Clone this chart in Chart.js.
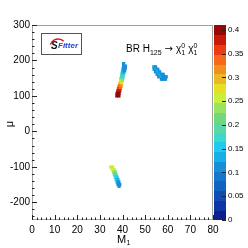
<!DOCTYPE html>
<html>
<head>
<meta charset="utf-8">
<script src="https://cdn.jsdelivr.net/npm/chart.js@4.4.0/dist/chart.umd.min.js"></script>
<style>
  html, body { margin: 0; padding: 0; background: #fff; }
  canvas { display: block; }
</style>
</head>
<body>
<canvas id="myChart" width="248" height="248"></canvas>
<script>
// scan cells: M1, mu and the branching ratio in each cell
var m1 = [
  40.5, 40.5, 41.3, 40.3, 41.2, 40.0, 40.9, 39.8, 40.5, 39.6, 40.3, 39.3, 40.1,
  39.1, 39.9, 38.8, 39.6, 38.5, 39.4, 38.2, 39.1, 37.9, 38.8, 37.6, 38.5, 37.5, 38.4,
  53.8, 54.6, 54.0, 54.9, 55.6, 54.6, 55.5, 56.4, 55.3, 56.2, 57.1, 58.0,
  56.0, 56.9, 57.8, 58.7, 59.3, 57.2, 58.1, 59.0,
  34.8, 35.7, 35.5, 36.3, 36.0, 36.8, 36.4, 37.2, 36.8, 37.6, 37.2, 38.0, 37.6, 38.4, 38.0, 38.8, 38.5
];
var mu = [
  191, 184, 184, 177, 177, 170, 170, 163, 163, 156, 156, 149, 149,
  142, 142, 135, 135, 128, 128, 121, 121, 114, 114, 107, 107, 100, 100,
  182, 182, 175, 175, 175, 168, 168, 168, 161, 161, 161, 161,
  154, 154, 154, 154, 154, 147, 147, 147,
  -101, -101, -108, -108, -115, -115, -122, -122, -129, -129, -136, -136, -143, -143, -150, -150, -155
];
var br = [
  0.11, 0.12, 0.11, 0.12, 0.12, 0.13, 0.12, 0.15, 0.14, 0.18, 0.17, 0.21, 0.20,
  0.25, 0.24, 0.29, 0.28, 0.33, 0.32, 0.35, 0.34, 0.38, 0.37, 0.40, 0.39, 0.40, 0.41,
  0.13, 0.12, 0.12, 0.13, 0.12, 0.12, 0.13, 0.12, 0.12, 0.13, 0.12, 0.12,
  0.12, 0.13, 0.12, 0.11, 0.12, 0.12, 0.12, 0.11,
  0.27, 0.28, 0.26, 0.25, 0.23, 0.22, 0.20, 0.19, 0.17, 0.16, 0.15, 0.14, 0.13, 0.12, 0.12, 0.11, 0.11
];

var xTicks = [0, 10, 20, 30, 40, 50, 60, 70, 80];
var yTicks = [-200, -100, 0, 100, 200, 300];
var zTicks = [0, 0.05, 0.1, 0.15, 0.2, 0.25, 0.3, 0.35, 0.4];
var zMax = 0.41;
var palette = [
  "#0c1f8c", "#0d36a4", "#0f4cb4", "#1262c2", "#1477cc", "#168fd8", "#18aee6", "#1ecbee",
  "#3dd8cc", "#58d8a4", "#72d87e", "#9ae262", "#c8f03c", "#e6e024", "#eab824", "#f0901e",
  "#f86818", "#ee3a10", "#c41a08", "#960808"
];

function colorFor(v) {
  var i = Math.floor(v / zMax * palette.length);
  if (i < 0) i = 0;
  if (i > palette.length - 1) i = palette.length - 1;
  return palette[i];
}

var points = [];
var colors = [];
for (var i = 0; i < m1.length; i++) {
  points.push({ x: m1[i], y: mu[i] });
  colors.push(colorFor(br[i]));
}

function setTicks(list) {
  return function(scale) {
    scale.ticks = list.map(function(v) { return { value: v }; });
  };
}

// frame, inner ticks, colour bar, titles and the logo
var extras = {
  id: "extras",
  afterDraw: function(chart) {
    var ctx = chart.ctx;
    var a = chart.chartArea;
    var xs = chart.scales.x, ys = chart.scales.y, zs = chart.scales.z;
    ctx.save();

    ctx.strokeStyle = "#a0a0a0";
    ctx.lineWidth = 1;
    ctx.strokeRect(a.left + 0.5, a.top + 0.5, a.right - a.left - 1, a.bottom - a.top - 1);

    ctx.strokeStyle = "#222";
    ctx.beginPath();
    for (var v = 0; v <= 80; v += 2) {
      var px = Math.round(xs.getPixelForValue(v)) + 0.5;
      var len = v % 10 === 0 ? 5 : 2.5;
      ctx.moveTo(px, a.bottom);
      ctx.lineTo(px, a.bottom - len);
    }
    for (var w = -240; w <= 300; w += 20) {
      var py = Math.round(ys.getPixelForValue(w)) + 0.5;
      var l2 = w % 100 === 0 ? 5 : 2.5;
      ctx.moveTo(a.left, py);
      ctx.lineTo(a.left + l2, py);
    }
    ctx.stroke();

    // colour bar
    var bx = a.right + 1, bw = 12;
    for (var k = 0; k < palette.length; k++) {
      var y0 = zs.getPixelForValue(k * zMax / palette.length);
      var y1 = zs.getPixelForValue((k + 1) * zMax / palette.length);
      ctx.fillStyle = palette[k];
      ctx.fillRect(bx, Math.floor(y1), bw, Math.ceil(y0) - Math.floor(y1));
    }
    ctx.strokeStyle = "#222";
    ctx.beginPath();
    zTicks.forEach(function(t) {
      var ty = Math.round(zs.getPixelForValue(t)) + 0.5;
      ctx.moveTo(bx + bw, ty);
      ctx.lineTo(bx + bw - 4, ty);
    });
    ctx.stroke();

    ctx.fillStyle = "#000";
    ctx.textBaseline = "alphabetic";
    // x title
    ctx.font = "11px 'Liberation Sans', Arial, sans-serif";
    ctx.textAlign = "left";
    ctx.fillText("M", 117, 243);
    ctx.font = "7px 'Liberation Sans', Arial, sans-serif";
    ctx.fillText("1", 126.5, 245);
    // y title
    ctx.save();
    ctx.translate(13, 124);
    ctx.rotate(-Math.PI / 2);
    ctx.font = "11px 'Liberation Sans', Arial, sans-serif";
    ctx.textAlign = "center";
    ctx.fillText("\u03bc", 0, 0);
    ctx.restore();

    // label
    var x = 126, base = 52;
    ctx.textAlign = "left";
    ctx.font = "10px 'Liberation Sans', Arial, sans-serif";
    ctx.fillText("BR H", x, base);
    x += ctx.measureText("BR H").width;
    ctx.font = "7px 'Liberation Sans', Arial, sans-serif";
    ctx.fillText("125", x, base + 3);
    x += ctx.measureText("125").width + 3;
    ctx.font = "10px 'DejaVu Sans', sans-serif";
    ctx.fillText("\u2192", x, base);
    x += ctx.measureText("\u2192").width + 3;
    for (var c = 0; c < 2; c++) {
      ctx.font = "10px 'Liberation Sans', Arial, sans-serif";
      ctx.fillText("\u03c7", x, base);
      var cw = ctx.measureText("\u03c7").width;
      ctx.font = "7px 'Liberation Sans', Arial, sans-serif";
      ctx.fillText("0", x + cw, base - 4);
      ctx.fillText("1", x + cw, base + 3);
      x += cw + 7;
    }

    // logo
    ctx.strokeStyle = "#555";
    ctx.lineWidth = 1;
    ctx.strokeRect(41.5, 33.5, 40, 21);
    ctx.strokeStyle = "#e01818";
    ctx.lineWidth = 1.5;
    ctx.beginPath();
    ctx.arc(58, 47, 8, Math.PI * 1.1, Math.PI * 1.75);
    ctx.stroke();
    ctx.fillStyle = "#111";
    ctx.font = "bold italic 10px 'Liberation Sans', Arial, sans-serif";
    ctx.fillText("S", 51, 49);
    ctx.fillStyle = "#2040d0";
    ctx.font = "bold italic 8px 'Liberation Sans', Arial, sans-serif";
    ctx.fillText("Fitter", 58, 48);

    ctx.restore();
  }
};

var ctx = document.getElementById("myChart").getContext("2d");
var myChart = new Chart(ctx, {
  type: "scatter",
  data: {
    datasets: [{
      data: points,
      pointStyle: "rect",
      pointRadius: 2.3,
      pointHoverRadius: 2.3,
      pointBorderWidth: 0,
      pointBackgroundColor: colors
    }]
  },
  options: {
    responsive: false,
    animation: false,
    devicePixelRatio: 1,
    layout: { padding: { top: 25, left: 0, right: 0, bottom: 0 } },
    plugins: { legend: { display: false }, tooltip: { enabled: false } },
    scales: {
      x: {
        type: "linear", position: "bottom", min: 0, max: 80,
        afterBuildTicks: setTicks(xTicks),
        afterFit: function(s) { s.height = 28; },
        grid: { display: false, drawTicks: false },
        border: { display: false },
        ticks: { padding: 4, color: "#000", font: { family: "'Liberation Sans', Arial", size: 10 } }
      },
      y: {
        type: "linear", position: "left", min: -250, max: 300,
        afterBuildTicks: setTicks(yTicks),
        afterFit: function(s) { s.width = 32; },
        grid: { display: false, drawTicks: false },
        border: { display: false },
        ticks: { padding: 2, color: "#000", font: { family: "'Liberation Sans', Arial", size: 10 } }
      },
      z: {
        type: "linear", position: "right", min: 0, max: zMax, display: true,
        afterBuildTicks: setTicks(zTicks),
        afterFit: function(s) { s.width = 35; },
        grid: { display: false, drawTicks: false },
        border: { display: false },
        ticks: {
          padding: 15, color: "#000",
          font: { family: "'Liberation Sans', Arial", size: 8 },
          callback: function(v) { return String(+v.toFixed(2)); }
        }
      }
    }
  },
  plugins: [extras]
});
</script>
</body>
</html>
